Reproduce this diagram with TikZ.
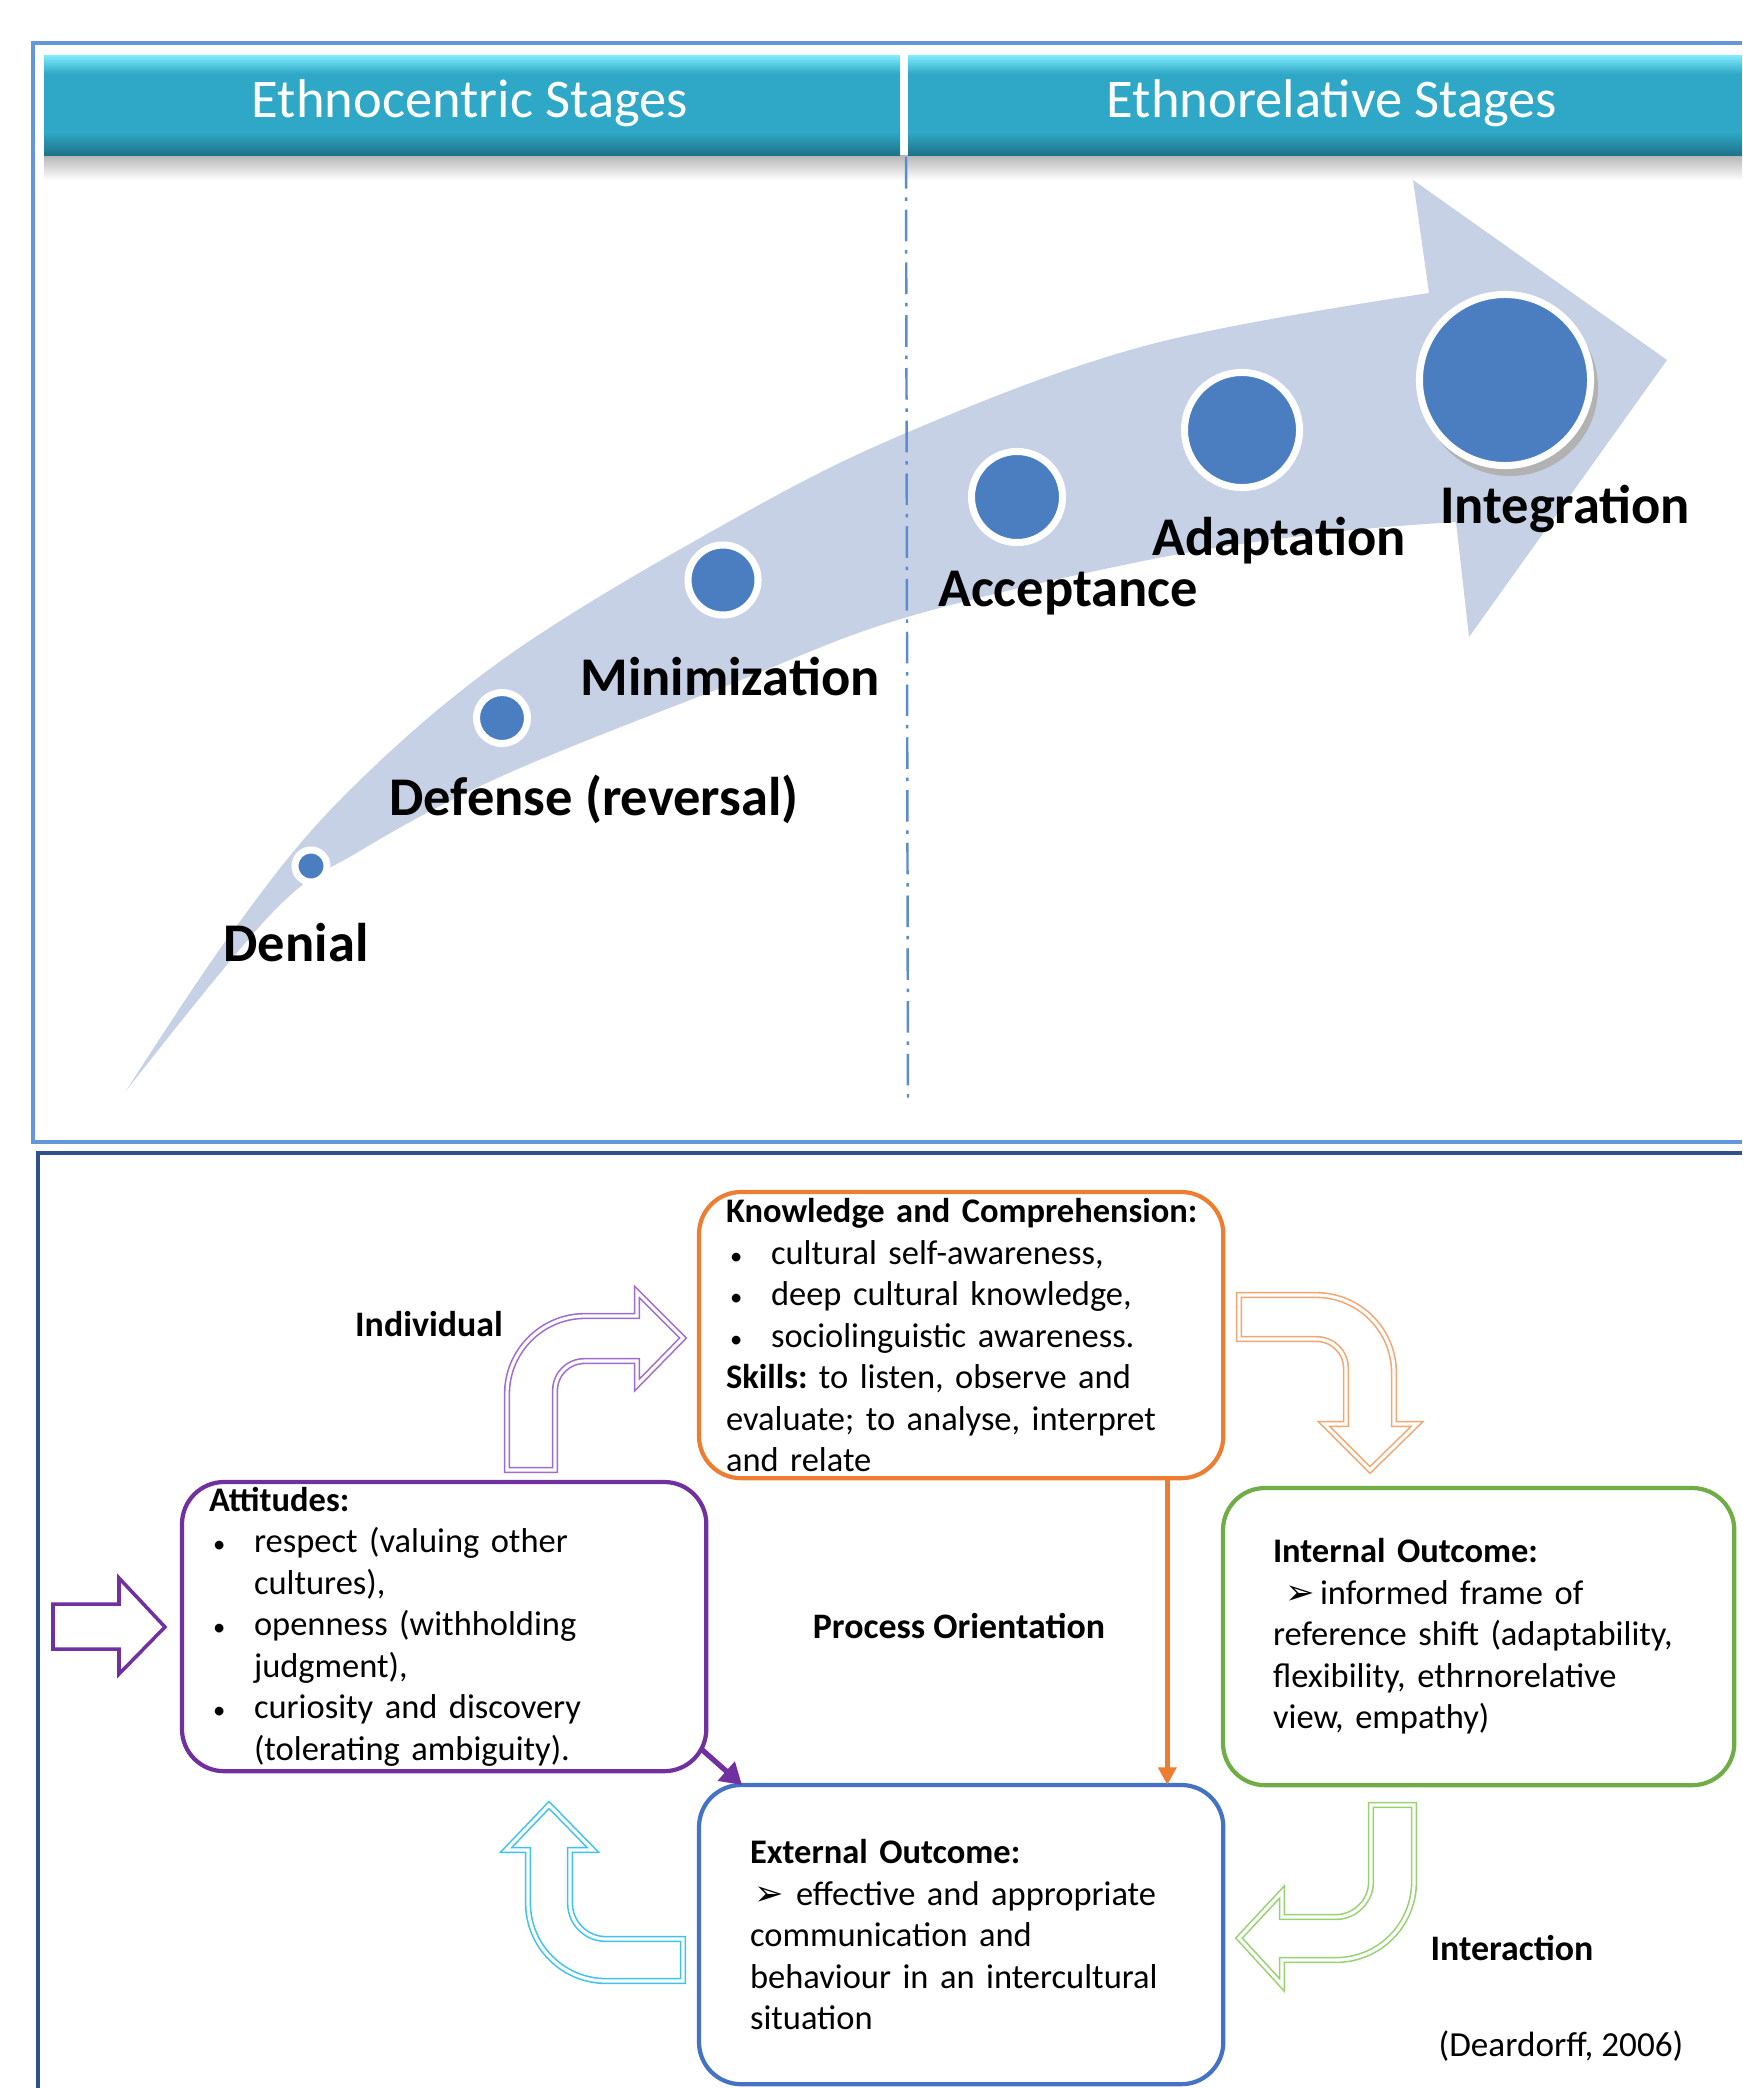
\documentclass[tikz,border=0pt]{standalone}
\usepackage{fontspec}
\setmainfont{Carlito}
\newfontfamily\symfont{DejaVu Sans}
\usetikzlibrary{arrows.meta,calc}
\setlength{\parindent}{0pt}
\frenchspacing
\definecolor{bandgray}{RGB}{198,209,230}
\definecolor{dotblue}{RGB}{74,126,193}
\definecolor{headlight}{RGB}{125,232,250}
\definecolor{headmid}{RGB}{46,168,198}
\definecolor{headdark}{RGB}{30,112,134}
\definecolor{frameblue}{RGB}{100,150,222}
\definecolor{framedark}{RGB}{47,82,143}
\definecolor{dashblue}{RGB}{90,140,210}
\definecolor{orangeline}{RGB}{237,125,49}
\definecolor{purpleline}{RGB}{112,48,160}
\definecolor{greenline}{RGB}{112,173,71}
\definecolor{blueline}{RGB}{68,114,196}
\definecolor{lightpurple}{RGB}{158,108,208}
\definecolor{lightorange}{RGB}{245,165,110}
\definecolor{lightgreen}{RGB}{150,210,110}
\definecolor{lightcyan}{RGB}{60,195,240}
\newcommand\bitem{\makebox[0.45cm][l]{\hspace{0.04cm}{\fontsize{7}{7}\selectfont\textbullet}}}
\newcommand\arrowbul{{\symfont\fontsize{10}{11}\selectfont ➢}}
\begin{document}
\begin{tikzpicture}[x=0.01cm,y=-0.01cm,
    stagetext/.style={font=\fontsize{15.5}{18}\selectfont\bfseries},
    stagedot/.style={circle,fill=dotblue,draw=white,line width=2pt,inner sep=0pt},
    panelbox/.style={draw,rounded corners=0.42cm,line width=1.2pt,anchor=north west,
        align=left,inner xsep=0.2cm,inner ysep=0pt,outer sep=0pt,
        font=\fontsize{9.8}{11.8}\selectfont},
    sidetag/.style={font=\fontsize{10.2}{12.2}\selectfont\bfseries},
    bentarrow/.style={line width=0.45pt,double=white,double distance=0.9pt}]
    \useasboundingbox (0,0) rectangle (1742,2088);
    \draw[frameblue,line width=0.9pt] (1742,43) -- (33,43) -- (33,1142) -- (1742,1142);
    \draw[framedark,line width=0.9pt] (1742,1153) -- (38,1153) -- (38,2088);
    \shade[top color=black!28,bottom color=white] (44,156) rectangle (1742,180);
    \foreach \a/\b in {44/900,908/1742} {
    \fill[headmid] (\a,56) rectangle (\b,156);
    \shade[top color=headlight,bottom color=headmid] (\a,56) rectangle (\b,74);
    \shade[top color=headmid,bottom color=headdark] (\a,132) rectangle (\b,156);
    }
    \node[text=white,font=\fontsize{15.5}{18}\selectfont] (cent) at (470,103) {Ethnocentric Stages};
    \node[text=white,font=\fontsize{15.5}{18}\selectfont] (rel) at (1332,103) {Ethnorelative Stages};
    \fill[bandgray] plot[smooth,tension=0.6] coordinates {(126,1091) (230,935) (340,800)
        (502,660) (723,525) (906,433) (1148,345) (1429,293)}
        -- (1413,180) -- (1667,360) -- (1469,637) -- (1456,522)
        -- plot[smooth,tension=0.6] coordinates {(1456,522) (1326,533) (1148,560) (904,618)
        (731,684) (502,776) (358,852) (272,913) (126,1091)} -- cycle;
    \draw[dashblue,line width=0.7pt,dash pattern=on 9pt off 2.5pt on 1pt off 2.5pt] (906,157) -- (908,1105);
    \fill[black!30] (1510,388) circle[radius=88];
    \foreach \n/\x/\y/\s in {den/311/866/0.32,def/502/718/0.51,min/723/580/0.70,
        acc/1017/497/0.91,ada/1242/430/1.15,intg/1505/380/1.71}
    \node[stagedot,minimum size=\s cm] (d\n) at (\x,\y) {};
    \foreach \n/\x/\y/\t in {den/296/943/Denial,def/594/799/Defense (reversal),
        min/730/677/Minimization,acc/1068/593/Acceptance,ada/1279/541/Adaptation,
        intg/1565/509/Integration}
    \node[stagetext] (l\n) at (\x,\y) {\t};
    \node[panelbox,draw=orangeline,minimum width=5.24cm,minimum height=2.86cm,text width=4.84cm]
        (know) at (699,1192) {\leftskip=0.07cm
        \textbf{Knowledge and Comprehension:}\\
        \bitem cultural self-awareness,\\
        \bitem deep cultural knowledge,\\
        \bitem sociolinguistic awareness.\\
        \textbf{Skills:} to listen, observe and\\
        evaluate; to analyse, interpret\\
        and relate\par};
    \node[panelbox,draw=purpleline,minimum width=5.24cm,minimum height=2.89cm,text width=4.84cm]
        (att) at (182,1482) {\leftskip=0.07cm
        \textbf{Attitudes:}\\
        \bitem respect (valuing other\\
        \hspace*{0.45cm}cultures),\\
        \bitem openness (withholding\\
        \hspace*{0.45cm}judgment),\\
        \bitem curiosity and discovery\\
        \hspace*{0.45cm}(tolerating ambiguity).\par};
    \node[panelbox,draw=greenline,minimum width=5.11cm,minimum height=2.97cm,text width=4.71cm]
        (intout) at (1223,1488) {\leftskip=0.3cm
        \textbf{Internal Outcome:}\\
        \hspace*{0.12cm}\makebox[0.35cm][l]{\arrowbul}informed frame of\\
        reference shift (adaptability,\\
        flexibility, ethrnorelative\\
        view, empathy)\par};
    \node[panelbox,draw=blueline,minimum width=5.24cm,minimum height=2.99cm,text width=4.84cm]
        (extout) at (699,1785) {\leftskip=0.31cm
        \textbf{External Outcome:}\\
        \hspace*{0.04cm}\makebox[0.42cm][l]{\arrowbul}effective and appropriate\\
        communication and\\
        behaviour in an intercultural\\
        situation\par};
    \node[sidetag] (indiv) at (429,1324) {Individual};
    \node[sidetag] (proc) at (959,1626) {Process Orientation};
    \node[sidetag] (inter) at (1512,1948) {Interaction};
    \node[font=\fontsize{10}{12}\selectfont] (cite) at (1561,2046) {(Deardorff, 2006)};
    \draw[purpleline,line width=1pt] (53,1604) -- (119,1604) -- (119,1578) -- (165,1627)
        -- (119,1674) -- (119,1649) -- (53,1649) -- cycle;
    \draw[bentarrow,lightpurple] (507,1470) -- (507,1394) .. controls (507,1351) and (542,1316) .. (585,1316)
        -- (637,1316) -- (637,1292) -- (683,1338) -- (637,1385) -- (637,1361) -- (585,1361)
        .. controls (568,1361) and (555,1374) .. (555,1391) -- (555,1470) -- cycle;
    \draw[bentarrow,lightorange] (1239,1295) -- (1316,1295) .. controls (1359,1295) and (1394,1330) .. (1394,1373)
        -- (1394,1424) -- (1417,1424) -- (1370,1470) -- (1324,1424) -- (1346,1424) -- (1346,1369)
        .. controls (1346,1352) and (1333,1339) .. (1316,1339) -- (1239,1339) -- cycle;
    \draw[bentarrow,lightgreen] (1414,1805) -- (1414,1882) .. controls (1414,1925) and (1379,1960) .. (1336,1960)
        -- (1282,1960) -- (1282,1985) -- (1239,1938) -- (1282,1892) -- (1282,1917) -- (1336,1917)
        .. controls (1355,1917) and (1371,1901) .. (1371,1882) -- (1371,1805) -- cycle;
    \draw[bentarrow,lightcyan] (683,1981) -- (606,1981) .. controls (563,1981) and (528,1946) .. (528,1903)
        -- (528,1850) -- (506,1850) -- (549,1805) -- (593,1850) -- (570,1850) -- (570,1903)
        .. controls (570,1923) and (586,1939) .. (606,1939) -- (683,1939) -- cycle;
    \draw[orangeline,line width=1.3pt,-{Triangle[width=5pt,length=5pt]}]
        ($(know.south east)+(-56,0)$) -- ($(extout.north east)+(-56,0)$);
    \draw[purpleline,line width=1.5pt,-{Triangle[width=7pt,length=6pt]}]
        ($(att.south east)+(-6,-23)$) -- ($(extout.north west)+(43,0)$);
  \end{tikzpicture}
\end{document}
